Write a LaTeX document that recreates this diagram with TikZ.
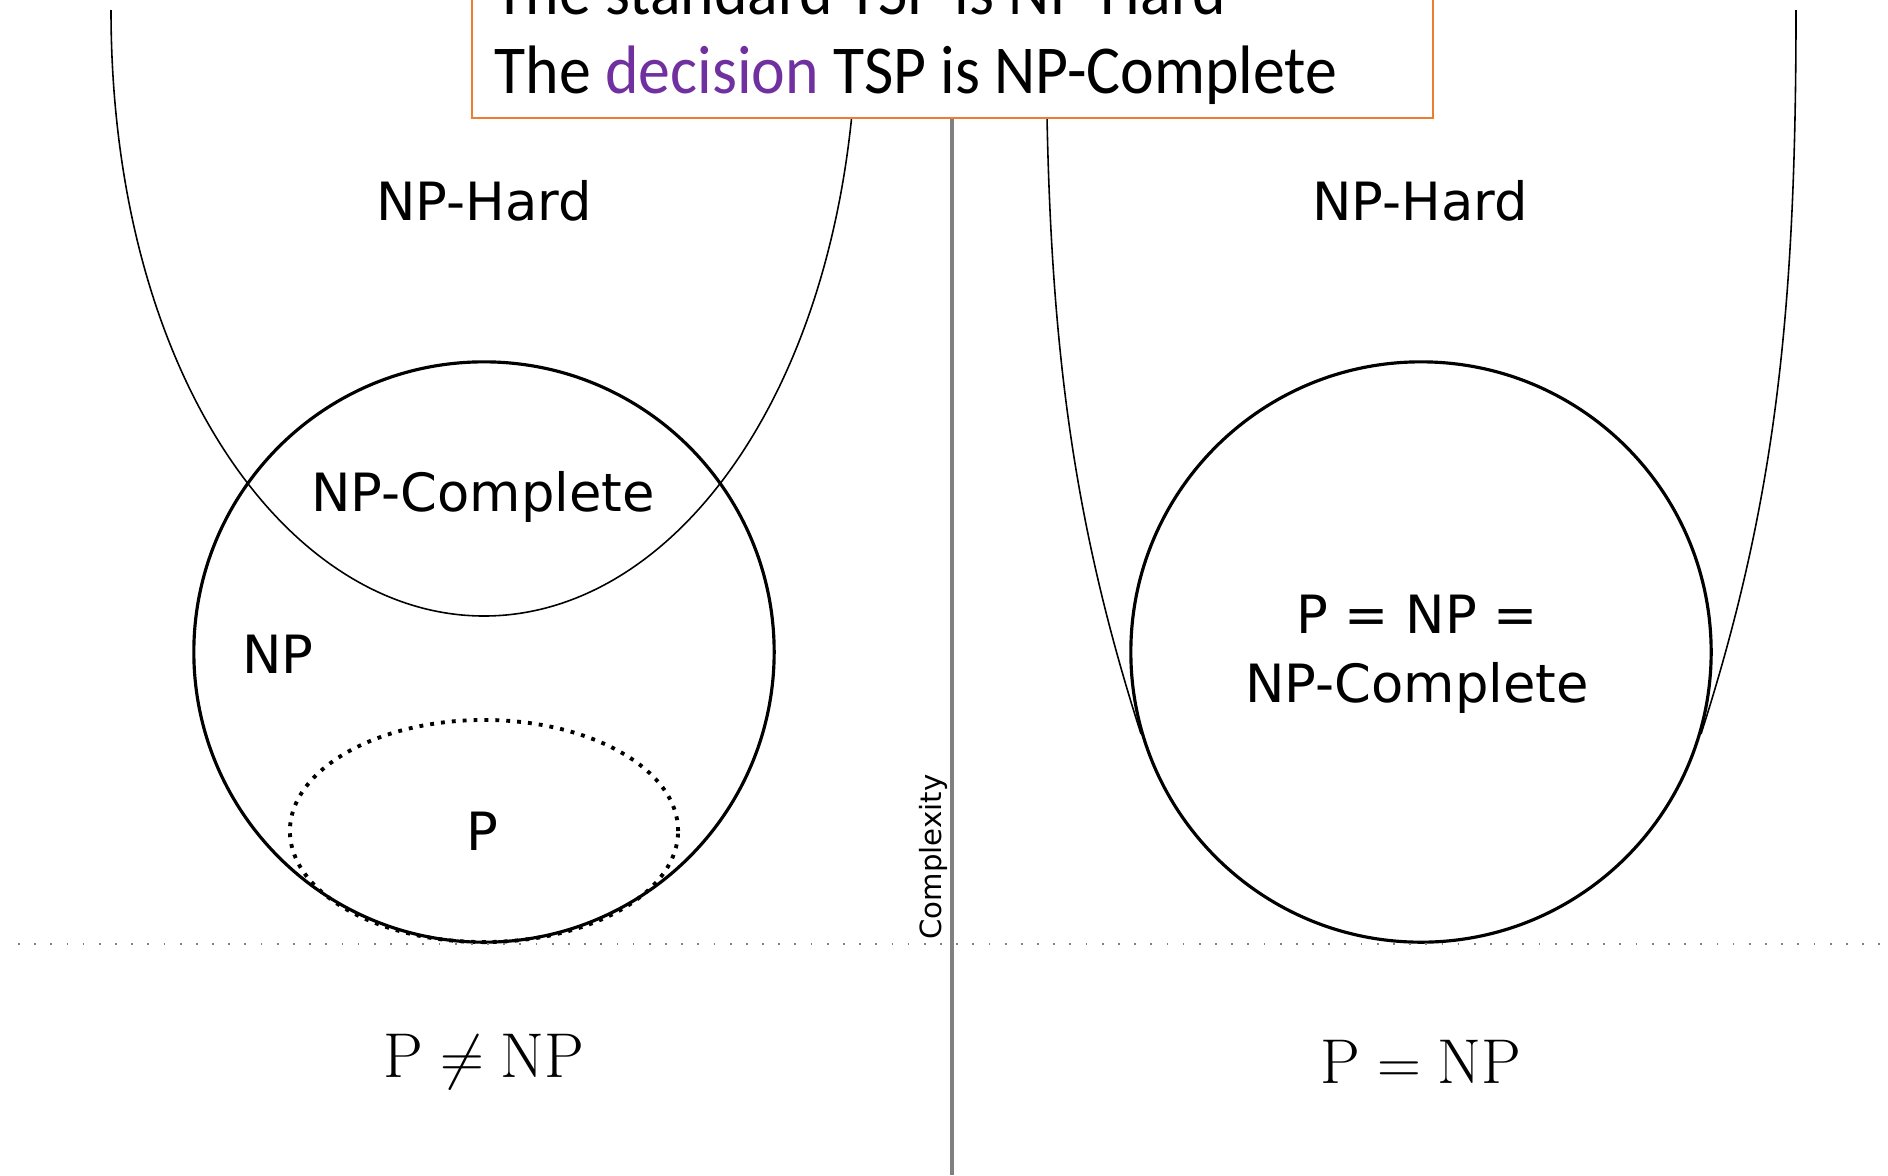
\documentclass[tikz,border=0pt]{standalone}
\usepackage{fontspec}
\usepackage{xcolor,tikz}
\newfontfamily\labelfont{DejaVu Sans}
\newfontfamily\slidefont{Carlito}[FakeStretch=0.93]
\definecolor{boxorange}{HTML}{ED7D31}
\definecolor{decpurple}{HTML}{7030A0}

\begin{document}
\begin{tikzpicture}[x=0.01cm,y=-0.01cm,
 ring/.style={line width=0.9pt},
 hard/.style={line width=0.45pt},
 lbl/.style={font=\labelfont\fontsize{15}{19.5}\selectfont,inner sep=0pt},
 res/.style={font=\fontsize{18}{21}\selectfont,inner sep=0pt},
 note/.style={font=\slidefont\fontsize{19.5}{23}\selectfont,inner sep=0pt,anchor=base west}]
\useasboundingbox (0,0) rectangle (1888,1175);
\clip (0,0) rectangle (1888,1175);
% P != NP side
\draw[ring] (484,652) circle[radius=2.9cm];
\draw[hard] (111,10) .. controls (111,370) and (285,616) .. (484,616)
 .. controls (683,616) and (857,370) .. (857,10);
\draw[line width=1.1pt,dash pattern=on 1.1pt off 2pt] (484,831) ellipse[x radius=1.94cm,y radius=1.11cm];
% P = NP side
\draw[ring] (1421,652) circle[radius=2.9cm];
\draw[hard] (1796,10) .. controls (1796,310) and (1776,500) .. (1701,734);
\draw[hard] (1046,10) .. controls (1046,310) and (1066,500) .. (1141,734);
% axes
\draw[gray,line width=0.9pt] (952,0) -- (952,1175);
\draw[gray,line width=0.5pt,dash pattern=on 0.5pt off 4.1pt] (18,944) -- (1888,944);
\node[font=\labelfont\fontsize{8.3}{10}\selectfont,rotate=90,inner sep=0pt] (cx) at (933,857) {Complexity};
% labels
\node[lbl] (nphl) at (484,201) {NP-Hard};
\node[lbl] (npcl) at (483,497) {NP-Complete};
\node[lbl] (npl) at (278,654) {NP};
\node[lbl] (pl) at (482,831) {P};
\node[lbl] (nphr) at (1420,201) {NP-Hard};
\node[lbl,align=center] (allr) at (1417,654) {P = NP =\\NP-Complete};
\node[res] (neq) at (484,1062) {$\mathrm{P} \neq \mathrm{NP}$};
\node[res] (eq) at (1421,1062) {$\mathrm{P} = \mathrm{NP}$};
% slide note
\draw[boxorange,line width=0.7pt,fill=white] (472,-20) rectangle (1433,118);
\node[note] (std) at (494,14) {The standard TSP is NP-Hard};
\node[note] (dec) at (494,93) {The \textcolor{decpurple}{decision} TSP is NP-Complete};
\end{tikzpicture}
\end{document}
